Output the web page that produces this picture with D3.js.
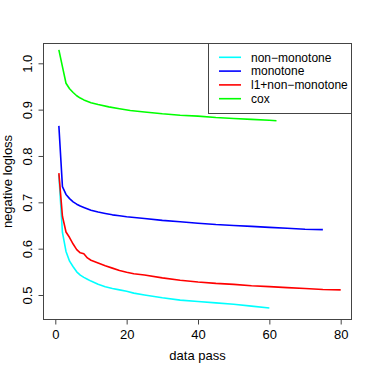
<!DOCTYPE html>
<html>
<head>
<meta charset="utf-8">
<script src="https://cdn.jsdelivr.net/npm/d3@7"></script>
<style>
  body { margin: 0; background: #fff; }
  svg text { font-family: "Liberation Sans", Arial, sans-serif; fill: #000; }
</style>
</head>
<body>
<div id="chart"></div>
<script>
var seriesNames = ["non\u2212monotone", "monotone", "l1+non\u2212monotone", "cox"];
var seriesColors = ["#00ffff", "#0000ff", "#ff0000", "#00ff00"];

var nonMonotonePass = [1, 2, 3, 4, 5, 6, 7, 8, 9, 10, 12, 14, 16, 18, 20, 22, 25, 30, 35, 40, 45, 50, 55, 60];
var nonMonotoneLoss = [0.760, 0.635, 0.594, 0.573, 0.561, 0.550, 0.543, 0.538, 0.534, 0.530, 0.523, 0.518, 0.514, 0.511, 0.508, 0.504, 0.500, 0.494, 0.489, 0.486, 0.483, 0.480, 0.476, 0.472];

var monotonePass = [1, 2, 3, 4, 5, 6, 7, 8, 10, 12, 14, 16, 18, 20, 25, 30, 35, 40, 45, 50, 55, 60, 65, 70, 75];
var monotoneLoss = [0.865, 0.734, 0.717, 0.708, 0.701, 0.696, 0.692, 0.689, 0.683, 0.679, 0.676, 0.673, 0.671, 0.669, 0.665, 0.661, 0.658, 0.655, 0.652, 0.650, 0.648, 0.646, 0.644, 0.642, 0.641];

var l1Pass = [1, 2, 3, 4, 5, 6, 7, 8, 9, 10, 12, 14, 16, 18, 20, 22, 25, 30, 35, 40, 45, 50, 55, 60, 65, 70, 75, 80];
var l1Loss = [0.763, 0.670, 0.636, 0.624, 0.610, 0.598, 0.591, 0.589, 0.580, 0.575, 0.569, 0.563, 0.558, 0.553, 0.549, 0.546, 0.543, 0.537, 0.532, 0.528, 0.525, 0.523, 0.520, 0.518, 0.516, 0.514, 0.512, 0.511];

var coxPass = [1, 2, 3, 4, 5, 6, 7, 8, 10, 12, 15, 18, 21, 25, 30, 35, 40, 45, 50, 55, 60, 62];
var coxLoss = [1.029, 0.993, 0.957, 0.945, 0.937, 0.930, 0.925, 0.921, 0.915, 0.911, 0.906, 0.902, 0.898, 0.895, 0.891, 0.888, 0.886, 0.883, 0.881, 0.879, 0.877, 0.876];

var xTicks = [0, 20, 40, 60, 80];
var yTicks = [0.5, 0.6, 0.7, 0.8, 0.9, 1.0];

var passes = [nonMonotonePass, monotonePass, l1Pass, coxPass];
var losses = [nonMonotoneLoss, monotoneLoss, l1Loss, coxLoss];

var width = 374, height = 374;
var box = {left: 43.5, right: 351.5, top: 43.5, bottom: 319.5};

var x = d3.scaleLinear().domain([0, 80]).range([55.3, 340.7]);
var y = d3.scaleLinear().domain([0.5, 1.0]).range([295, 63.3]);

var svg = d3.select("#chart").append("svg")
    .attr("width", width)
    .attr("height", height);

// plot lines
var line = d3.line()
    .x(function (d) { return x(d[0]); })
    .y(function (d) { return y(d[1]); });

passes.forEach(function (p, i) {
    var pts = p.map(function (v, j) { return [v, losses[i][j]]; });
    svg.append("path")
        .datum(pts)
        .attr("fill", "none")
        .attr("stroke", seriesColors[i])
        .attr("stroke-width", 1.6)
        .attr("stroke-linejoin", "round")
        .attr("d", line);
});

// box around the plot
svg.append("rect")
    .attr("x", box.left)
    .attr("y", box.top)
    .attr("width", box.right - box.left)
    .attr("height", box.bottom - box.top)
    .attr("fill", "none")
    .attr("stroke", "#444")
    .attr("stroke-width", 1);

// x axis
var xAxis = d3.axisBottom(x)
    .tickValues(xTicks)
    .tickSize(5)
    .tickPadding(5)
    .tickFormat(d3.format("d"));

var gx = svg.append("g")
    .attr("transform", "translate(0," + box.bottom + ")")
    .call(xAxis);
gx.select(".domain").remove();
gx.selectAll(".tick line").attr("stroke", "#444");
gx.selectAll(".tick text")
    .attr("font-size", 13)
    .attr("font-family", "Liberation Sans, Arial, sans-serif")
    .attr("fill", "#000");

// y axis, labels turned like R
var yAxis = d3.axisLeft(y)
    .tickValues(yTicks)
    .tickSize(5)
    .tickFormat(d3.format(".1f"));

var gy = svg.append("g")
    .attr("transform", "translate(" + box.left + ",0)")
    .call(yAxis);
gy.select(".domain").remove();
gy.selectAll(".tick line").attr("stroke", "#444");
gy.selectAll(".tick text")
    .attr("font-size", 13)
    .attr("font-family", "Liberation Sans, Arial, sans-serif")
    .attr("fill", "#000")
    .attr("x", null)
    .attr("dy", null)
    .attr("text-anchor", "middle")
    .attr("transform", "translate(-12,0) rotate(-90)");

// axis titles
svg.append("text")
    .attr("x", (box.left + box.right) / 2)
    .attr("y", 360)
    .attr("text-anchor", "middle")
    .attr("font-size", 13)
    .text("data pass");

svg.append("text")
    .attr("transform", "translate(12," + (box.top + box.bottom) / 2 + ") rotate(-90)")
    .attr("text-anchor", "middle")
    .attr("font-size", 13)
    .text("negative logloss");

// legend
var legend = svg.append("g");
legend.append("rect")
    .attr("x", 208.5)
    .attr("y", box.top)
    .attr("width", box.right - 208.5)
    .attr("height", 113.5 - box.top)
    .attr("fill", "#fff")
    .attr("stroke", "#444");

var item = legend.selectAll(".item")
    .data(seriesNames)
    .enter().append("g")
    .attr("class", "item")
    .attr("transform", function (d, i) { return "translate(0," + (57.3 + i * 13.8) + ")"; });

item.append("line")
    .attr("x1", 219)
    .attr("x2", 241)
    .attr("stroke", function (d, i) { return seriesColors[i]; })
    .attr("stroke-width", 1.6);

item.append("text")
    .attr("x", 251)
    .attr("dy", "0.35em")
    .attr("font-size", 12)
    .text(function (d) { return d; });
</script>
</body>
</html>
